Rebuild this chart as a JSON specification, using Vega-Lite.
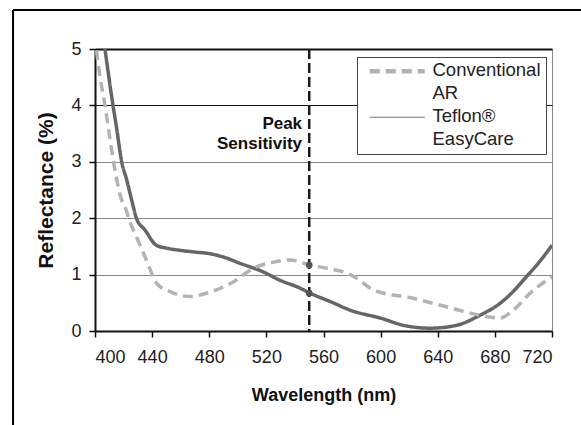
{
  "$schema": "https://vega.github.io/schema/vega-lite/v6.json",
  "width": 457,
  "height": 282,
  "autosize": "none",
  "padding": {"left": 95, "top": 49, "right": 29, "bottom": 94},
  "background": "white",
  "config": {
    "view": {"stroke": "#888888", "strokeWidth": 1},
    "font": "Liberation Sans",
    "axis": {"labelFont": "Liberation Sans", "titleFont": "Liberation Sans", "labelColor": "#222222", "titleColor": "#111111"}
  },
  "datasets": {
    "curves": [
      {"series": "Teflon® EasyCare", "wl": 407, "r": 5},
      {"series": "Teflon® EasyCare", "wl": 412.6, "r": 4},
      {"series": "Teflon® EasyCare", "wl": 415, "r": 3.62},
      {"series": "Teflon® EasyCare", "wl": 418.7, "r": 3},
      {"series": "Teflon® EasyCare", "wl": 422.2, "r": 2.68},
      {"series": "Teflon® EasyCare", "wl": 425.7, "r": 2.32},
      {"series": "Teflon® EasyCare", "wl": 429, "r": 2.0},
      {"series": "Teflon® EasyCare", "wl": 435, "r": 1.79},
      {"series": "Teflon® EasyCare", "wl": 443, "r": 1.52},
      {"series": "Teflon® EasyCare", "wl": 450, "r": 1.47},
      {"series": "Teflon® EasyCare", "wl": 459.5, "r": 1.43},
      {"series": "Teflon® EasyCare", "wl": 470, "r": 1.4},
      {"series": "Teflon® EasyCare", "wl": 480.5, "r": 1.37},
      {"series": "Teflon® EasyCare", "wl": 490, "r": 1.31},
      {"series": "Teflon® EasyCare", "wl": 501.5, "r": 1.2},
      {"series": "Teflon® EasyCare", "wl": 517.6, "r": 1.05},
      {"series": "Teflon® EasyCare", "wl": 529.5, "r": 0.9},
      {"series": "Teflon® EasyCare", "wl": 543.6, "r": 0.76},
      {"series": "Teflon® EasyCare", "wl": 550.6, "r": 0.67},
      {"series": "Teflon® EasyCare", "wl": 565, "r": 0.52},
      {"series": "Teflon® EasyCare", "wl": 578.6, "r": 0.37},
      {"series": "Teflon® EasyCare", "wl": 599.6, "r": 0.23},
      {"series": "Teflon® EasyCare", "wl": 618, "r": 0.09},
      {"series": "Teflon® EasyCare", "wl": 634.6, "r": 0.05},
      {"series": "Teflon® EasyCare", "wl": 653, "r": 0.1},
      {"series": "Teflon® EasyCare", "wl": 669.6, "r": 0.28},
      {"series": "Teflon® EasyCare", "wl": 683.6, "r": 0.49},
      {"series": "Teflon® EasyCare", "wl": 692, "r": 0.68},
      {"series": "Teflon® EasyCare", "wl": 702, "r": 0.96},
      {"series": "Teflon® EasyCare", "wl": 711, "r": 1.22},
      {"series": "Teflon® EasyCare", "wl": 720, "r": 1.52},
      {"series": "Conventional AR", "wl": 401, "r": 4.98},
      {"series": "Conventional AR", "wl": 403.5, "r": 4.51},
      {"series": "Conventional AR", "wl": 407, "r": 4.0},
      {"series": "Conventional AR", "wl": 410.5, "r": 3.4},
      {"series": "Conventional AR", "wl": 414, "r": 2.85},
      {"series": "Conventional AR", "wl": 418.7, "r": 2.32},
      {"series": "Conventional AR", "wl": 421, "r": 2.2},
      {"series": "Conventional AR", "wl": 425, "r": 1.9},
      {"series": "Conventional AR", "wl": 429, "r": 1.67},
      {"series": "Conventional AR", "wl": 436, "r": 1.26},
      {"series": "Conventional AR", "wl": 443, "r": 0.85},
      {"series": "Conventional AR", "wl": 452.5, "r": 0.7},
      {"series": "Conventional AR", "wl": 466.5, "r": 0.61},
      {"series": "Conventional AR", "wl": 478, "r": 0.67},
      {"series": "Conventional AR", "wl": 496.7, "r": 0.87},
      {"series": "Conventional AR", "wl": 510.8, "r": 1.11},
      {"series": "Conventional AR", "wl": 527, "r": 1.23},
      {"series": "Conventional AR", "wl": 536.5, "r": 1.26},
      {"series": "Conventional AR", "wl": 550.6, "r": 1.17},
      {"series": "Conventional AR", "wl": 565, "r": 1.1},
      {"series": "Conventional AR", "wl": 573.7, "r": 1.05},
      {"series": "Conventional AR", "wl": 583, "r": 0.94},
      {"series": "Conventional AR", "wl": 594.7, "r": 0.73},
      {"series": "Conventional AR", "wl": 622.7, "r": 0.58},
      {"series": "Conventional AR", "wl": 646, "r": 0.43},
      {"series": "Conventional AR", "wl": 669.6, "r": 0.28},
      {"series": "Conventional AR", "wl": 683.6, "r": 0.23},
      {"series": "Conventional AR", "wl": 692.9, "r": 0.37},
      {"series": "Conventional AR", "wl": 704.6, "r": 0.67},
      {"series": "Conventional AR", "wl": 720, "r": 0.96}
    ],
    "marker": [{"wl": 550}],
    "dots": [
      {"wl": 550, "r": 1.17},
      {"wl": 550, "r": 0.67}
    ],
    "notes": [
      {"wl": 545.0, "r": 3.67, "label": "Peak"},
      {"wl": 545.0, "r": 3.31, "label": "Sensitivity"}
    ]
  },
  "layer": [
    {
      "data": {"name": "curves"},
      "mark": {"type": "line", "interpolate": "monotone", "strokeWidth": 3.5, "clip": true},
      "encoding": {
        "x": {
          "field": "wl", "type": "quantitative",
          "scale": {"domain": [400, 720], "nice": false, "zero": false},
          "axis": {
            "values": [400, 440, 480, 520, 560, 600, 640, 680, 720],
            "title": "Wavelength (nm)",
            "titleFontSize": 18, "titleFontWeight": "bold", "titlePadding": 20,
            "labelFontSize": 18, "labelPadding": 11,
            "domainColor": "#111111", "domainWidth": 2,
            "tickColor": "#111111", "tickWidth": 1.5, "tickSize": 6,
            "grid": false
          }
        },
        "y": {
          "field": "r", "type": "quantitative",
          "scale": {"domain": [0, 5], "nice": false},
          "axis": {
            "values": [0, 0.5, 1, 1.5, 2, 2.5, 3, 3.5, 4, 4.5, 5],
            "labelExpr": "datum.value % 1 === 0 ? '' + datum.value : ''",
            "title": "Reflectance (%)",
            "titleFontSize": 21, "titleFontWeight": "bold", "titlePadding": 14,
            "labelFontSize": 18, "labelPadding": 8,
            "domainColor": "#111111", "domainWidth": 2,
            "tickColor": "#111111", "tickWidth": 1.5, "tickSize": 6,
            "grid": true,
            "gridColor": {"condition": {"test": "datum.value >= 4", "value": "#111111"}, "value": "#888888"},
            "gridWidth": {"condition": {"test": "datum.value === 5", "value": 2}, "value": 1},
            "gridOpacity": {"condition": {"test": "datum.value % 1 !== 0 || datum.value === 0", "value": 0}, "value": 1}
          }
        },
        "color": {
          "field": "series", "type": "nominal",
          "scale": {"domain": ["Conventional AR", "Teflon® EasyCare"], "range": ["#b3b3b3", "#666666"]},
          "legend": {
            "title": null,
            "orient": "none",
            "legendX": 262,
            "legendY": 8,
            "direction": "vertical",
            "symbolType": "stroke",
            "symbolSize": 3025,
            "labelFont": "Liberation Sans",
            "labelFontSize": 18.5,
            "labelColor": "#222222",
            "labelLimit": 300,
            "labelBaseline": "top",
            "labelExpr": "datum.value === 'Conventional AR' ? ['Conventional', 'AR'] : ['Teflon®', 'EasyCare']",
            "fillColor": "white",
            "strokeColor": "#444444",
            "padding": 5,
            "rowPadding": 4,
            "symbolOffset": 26,
            "labelOffset": 26,
            "encode": {
              "labels": {"update": {"lineHeight": {"value": 23}, "dy": {"value": -10}}},
              "symbols": {"update": {
                "strokeWidth": {"signal": "datum.value === 'Conventional AR' ? 4.5 : 1"},
                "strokeDash": {"signal": "datum.value === 'Conventional AR' ? [9, 17.5] : [1, 0]"}
              }}
            }
          }
        },
        "strokeDash": {
          "field": "series", "type": "nominal",
          "scale": {"domain": ["Conventional AR", "Teflon® EasyCare"], "range": [[10, 6], [1, 0]]},
          "legend": null
        },
        "order": {"field": "wl", "type": "quantitative"}
      }
    },
    {
      "data": {"name": "marker"},
      "mark": {"type": "rule", "color": "#1a1a1a", "strokeWidth": 2.5, "strokeDash": [10, 4]},
      "encoding": {"x": {"field": "wl", "type": "quantitative"}}
    },
    {
      "data": {"name": "dots"},
      "mark": {"type": "point", "filled": true, "color": "#555555", "size": 45, "opacity": 1},
      "encoding": {
        "x": {"field": "wl", "type": "quantitative"},
        "y": {"field": "r", "type": "quantitative"}
      }
    },
    {
      "data": {"name": "notes"},
      "mark": {"type": "text", "align": "right", "baseline": "middle", "font": "Liberation Sans", "fontWeight": "bold", "fontSize": 17, "color": "#111111"},
      "encoding": {
        "x": {"field": "wl", "type": "quantitative"},
        "y": {"field": "r", "type": "quantitative"},
        "text": {"field": "label"}
      }
    },
    {
      "data": {"values": [{}]},
      "mark": {"type": "rule", "color": "#000000", "strokeWidth": 2},
      "encoding": {
        "x": {"datum": 342.6},
        "y": {"datum": 5.69},
        "y2": {"datum": -1.75}
      }
    },
    {
      "data": {"values": [{}]},
      "mark": {"type": "rule", "color": "#000000", "strokeWidth": 2},
      "encoding": {
        "x": {"datum": 342.6},
        "x2": {"datum": 741},
        "y": {"datum": 5.69}
      }
    }
  ]
}
